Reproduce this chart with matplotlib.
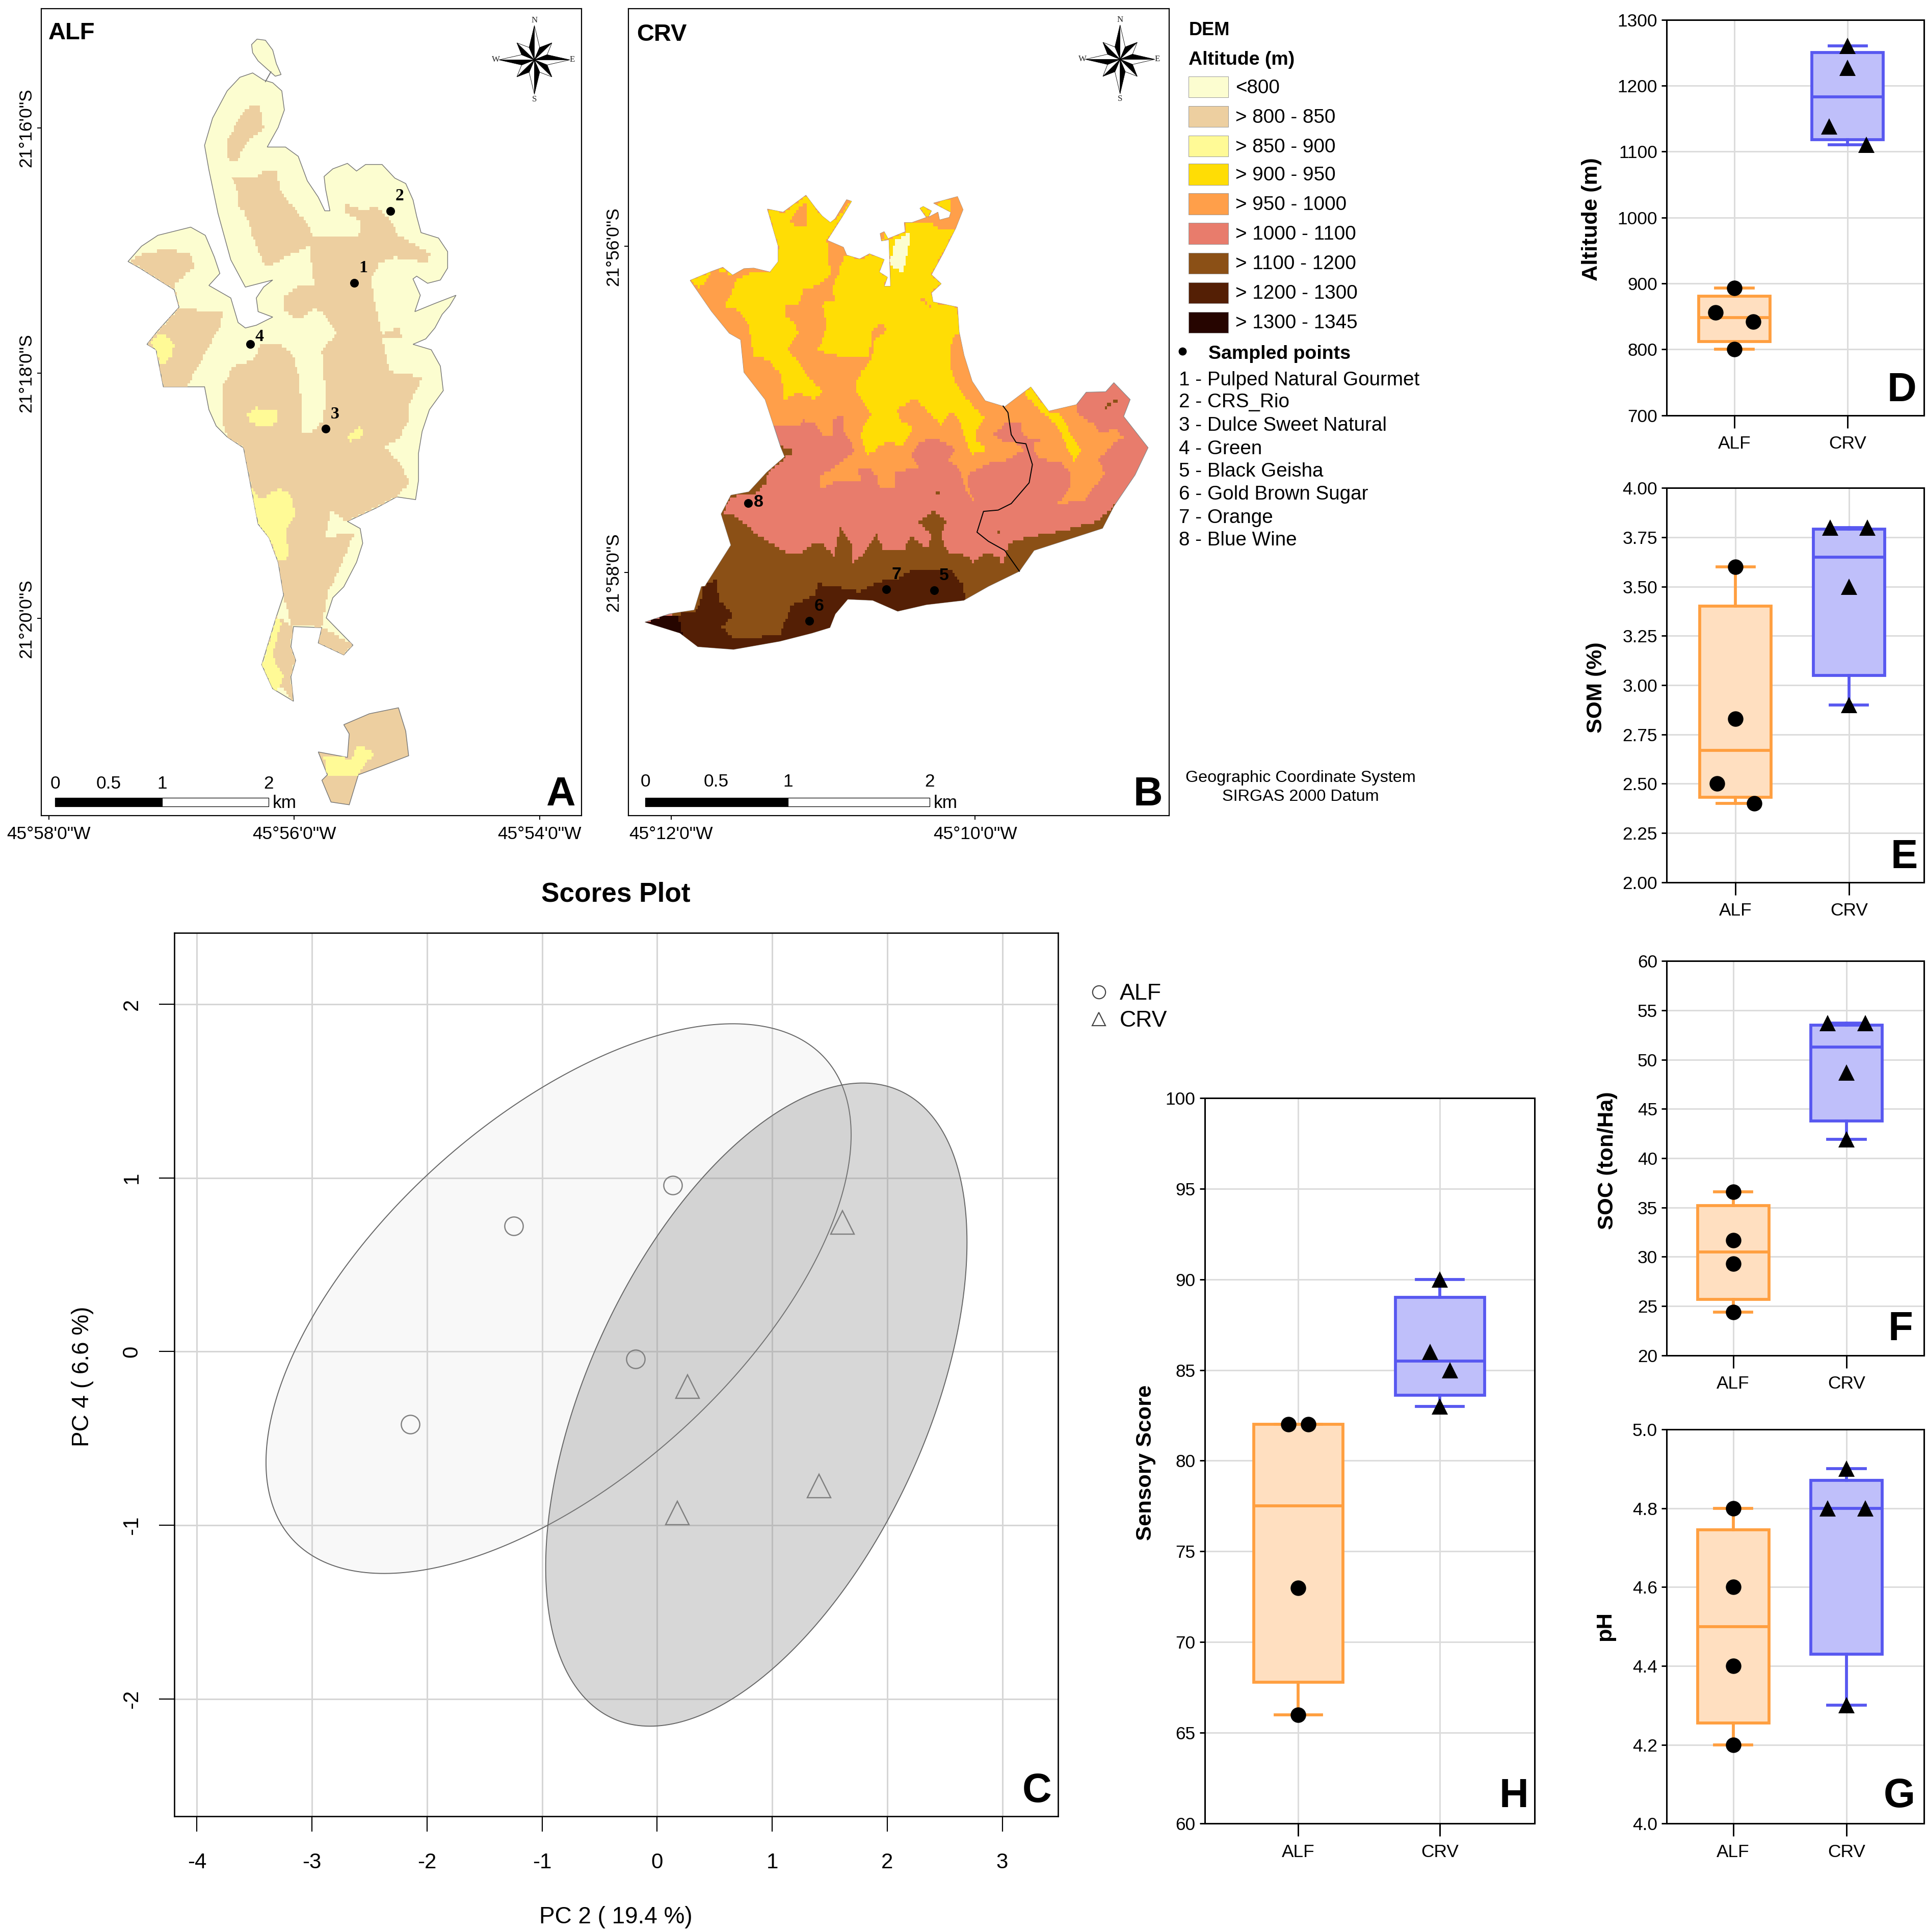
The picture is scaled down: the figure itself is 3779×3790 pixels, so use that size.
import numpy as np
import matplotlib
matplotlib.use('Agg')
import matplotlib.pyplot as plt
from matplotlib.patches import Polygon, Rectangle

plt.rcParams['font.family'] = ['Liberation Sans', 'DejaVu Sans']
plt.rcParams['axes.unicode_minus'] = False

# ---- map outlines (map units = pixels of the scan)
alf_islet = [(607,80),(622,70),(645,72),(665,90),(675,115),(688,135),(672,138),(650,125),(625,110),(610,95)]
alf_outline = [(575,140),(610,132),(640,145),(665,150),(690,165),(697,200),(680,232),(650,268),(700,268),(735,285),
    (760,330),(790,360),(808,385),(822,385),(810,345),(806,322),(830,308),(870,298),(895,312),(920,300),(965,300),
    (1000,325),(1030,335),(1050,365),(1060,395),(1072,425),(1120,435),(1145,460),(1145,490),(1125,512),(1090,518),
    (1060,505),(1050,510),(1070,540),(1055,570),(1110,555),(1168,540),(1150,560),(1130,575),(1110,600),(1085,620),
    (1050,630),(1100,640),(1125,670),(1133,715),(1095,750),(1075,790),(1065,830),(1065,880),(1057,915),(1005,910),
    (950,930),(870,955),(905,968),(912,995),(895,1030),(860,1075),(830,1095),(812,1132),(885,1182),(860,1200),
    (790,1178),(800,1150),(722,1148),(715,1185),(728,1210),(715,1240),(722,1285),(665,1262),(635,1218),(675,1130),
    (695,1090),(680,1030),(655,985),(625,960),(605,890),(585,820),(540,800),(510,780),(490,750),(478,708),(365,708),
    (345,640),(320,630),(350,605),(408,562),(395,530),(300,490),(268,478),(305,450),(350,430),(440,415),(480,430),
    (505,470),(520,500),(490,522),(550,545),(570,590),(590,600),(620,595),(665,580),(625,570),(620,545),(640,525),
    (665,512),(590,525),(550,475),(515,390),(490,310),(478,265),(500,215),(540,165)]
alf_south = [(860,1328),(930,1308),(1010,1297),(1030,1340),(1038,1385),(960,1405),(900,1420),(875,1475),(825,1470),
    (800,1430),(815,1420),(790,1378),(870,1388),(875,1345)]
alf_tan = [
    [(540,290),(537,260),(570,215),(605,190),(630,192),(640,235),(600,255),(565,295)],
    [(555,325),(600,325),(625,320),(650,310),(675,315),(690,355),(730,385),(755,405),(780,435),(900,435),(910,405),
     (860,385),(865,372),(910,385),(945,378),(985,400),(1010,430),(1060,450),(1100,465),(1090,480),(1000,470),(960,480),
     (935,510),(950,570),(965,610),(1010,600),(1020,620),(965,620),(985,680),(1075,690),(1060,715),(1040,740),(1040,770),
     (1015,800),(975,820),(1020,855),(1040,885),(1005,910),(950,930),(870,955),(825,935),(810,985),(885,975),(885,985),
     (850,1040),(815,1090),(800,1150),(715,1145),(695,1090),(680,1030),(655,985),(625,960),(605,890),(585,820),(540,800),
     (525,760),(525,710),(555,670),(610,660),(630,630),(680,630),(720,650),(740,700),(745,795),(770,790),(805,770),
     (810,720),(800,640),(840,610),(810,575),(780,565),(740,585),(700,570),(692,545),(730,525),(780,520),(765,450),
     (700,470),(650,490),(635,470),(610,430),(595,395),(570,375),(570,350)],
    [(268,478),(305,465),(375,455),(440,465),(450,490),(395,520),(408,562),(480,570),(530,572),(520,600),(470,660),
     (430,708),(365,708),(345,640),(320,630),(350,605),(408,562),(395,530),(300,490)],
    [(800,1150),(885,1182),(860,1200),(790,1178)],
    [(675,1130),(722,1148),(715,1185),(728,1210),(715,1240),(722,1285),(635,1218)],
]
alf_yellow = [
    [(330,622),(360,610),(395,630),(390,650),(360,670),(345,640)],
    [(595,755),(620,747),(680,752),(680,775),(640,782),(600,772)],
    [(870,798),(900,780),(915,790),(905,802),(880,808)],
    [(605,890),(630,915),(680,895),(715,905),(728,945),(700,975),(710,1020),(685,1030),(655,985),(625,960)],
    [(675,1135),(690,1140),(665,1200),(680,1225),(695,1240),(680,1265),(665,1262),(635,1218)],
    [(805,1385),(880,1390),(895,1365),(945,1380),(900,1420),(860,1425),(815,1422)],
]
alf_sites = ['1', '2', '3', '4']
alf_site_x = [889, 988, 810, 603]
alf_site_y = [517, 385, 785, 630]

crv_outline_crop = [(85,392),(150,358),(185,342),(215,372),(250,347),(280,345),(330,360),(355,320),(355,260),(322,118),
    (370,130),(440,65),(470,115),(490,145),(515,170),(530,155),(565,82),(580,88),(550,150),(505,238),(555,265),(565,295),
    (605,310),(635,290),(680,312),(665,360),(690,380),(680,415),(700,415),(695,235),(672,240),(668,212),(680,205),(692,232),
    (745,205),(742,170),(765,170),(810,150),(790,115),(800,108),(825,125),(815,150),(845,130),(850,160),(880,150),(885,130),
    (832,95),(905,70),(922,120),(900,190),(860,290),(825,370),(855,405),(825,440),(830,475),(905,495),(910,590),(925,680),
    (950,780),(990,855),(1050,878),(1130,802),(1185,895),(1270,870),(1300,822),(1360,820),(1385,785),(1435,850),(1415,915),
    (1490,1035),(1450,1140),(1385,1260),(1350,1345),(1140,1430),(1095,1510),(1000,1568)]
crv_outline_south = [(985,1100),(880,1108),(800,1120),(730,1100),(660,1098),(625,1125),(610,1150),(560,1160),(470,1175),
    (340,1190),(240,1185),(190,1160),(92,1140),(160,1125),(230,1118),(250,1075)]
crv_outline_west = [(130,1568),(210,1410),(180,1290),(210,1218),(265,1205),(320,1130),(375,1070),(362,1030),(315,850),
    (250,745),(240,620),(205,595),(150,510)]
crv_orange_crop = [(0,945),(340,945),(420,945),(430,930),(470,945),(490,990),(520,990),(525,925),(555,910),(555,970),(590,1050),
    (540,1100),(480,1150),(485,1195),(540,1160),(610,1170),(600,1120),(635,1115),(660,1150),(665,1190),(710,1195),(715,1130),
    (790,1105),(760,1060),(790,1010),(840,1000),(900,1040),(880,1085),(915,1130),(935,1210),(965,1260),(935,1180),(940,1135),
    (1000,1095),(1050,1085),(1115,1040),(1080,1015),(1050,1010),(1015,985),(1050,940),(1100,945),(1105,985),(1130,1000),
    (1195,1000),(1150,1010),(1135,1040),(1160,1080),(1220,1090),(1250,1130),(1255,1180),(1215,1250),(1290,1240),(1360,1130),
    (1335,1080),(1400,1000),(1420,1000),(1395,965),(1340,975),(1320,940),(1270,900),(1270,760),(1000,760),(1000,0),(0,0)]
crv_yellow_crop = [
    [(190,490),(215,430),(225,390),(270,360),(330,360),(355,260),(322,118),(370,130),(440,65),(490,145),(530,155),(580,88),
     (505,240),(510,300),(515,370),(480,410),(430,430),(420,480),(375,490),(375,530),(410,560),(415,600),(380,660),(420,710),
     (450,770),(490,820),(470,850),(420,825),(375,850),(365,760),(330,700),(280,680),(265,560),(240,510)],
    [(85,392),(150,358),(140,385),(115,425)],
    [(170,355),(185,342),(215,372)],
    [(540,350),(560,295),(605,310),(635,290),(680,312),(665,360),(690,380),(680,415),(700,415),(695,235),(745,205),(742,170),
     (810,165),(860,200),(900,190),(860,290),(825,370),(855,405),(825,440),(830,475),(905,495),(910,590),(890,615),(880,700),
     (895,780),(935,850),(975,910),(990,910),(965,970),(960,1010),(1000,1040),(950,1060),(940,1040),(905,910),(880,900),(855,950),
     (820,900),(775,845),(720,890),(730,930),(770,960),(740,1030),(690,1010),(630,1065),(605,980),(640,910),(590,800),(610,740),
     (640,700),(650,620),(680,590),(690,580),(670,555),(640,590),(635,690),(570,690),(475,660),(490,620),(505,570),(490,480),
     (530,470),(520,420),(540,370)],
    [(1110,825),(1130,802),(1185,895),(1215,900),(1240,950),(1265,1010),(1285,1050),(1265,1090),(1245,1040),(1215,960),(1180,910),(1150,880)],
    [(665,360),(680,205),(692,232),(672,240)],
    [(790,115),(800,108),(825,125),(815,150)],
    [(832,95),(880,80),(885,130)],
]
crv_orange_top = [
    [(905,70),(922,120),(900,190),(870,200),(840,170),(885,150),(885,85)],
    [(388,170),(420,105),(442,95),(442,190)],
    [(790,455),(830,495),(810,490)],
]
crv_pale_crop = [(715,240),(760,205),(755,260),(740,355),(715,350),(695,320)]
crv_brown_crop = [
    [(210,1290),(240,1315),(290,1370),(380,1440),(430,1435),(460,1405),(490,1410),(525,1450),(545,1345),(580,1410),(580,1480),
     (620,1440),(655,1365),(680,1435),(740,1430),(760,1375),(815,1425),(825,1365),(785,1320),(830,1280),(870,1320),(855,1380),
     (875,1440),(940,1450),(950,1480),(985,1445),(1030,1450),(1040,1490),(1065,1400),(1120,1380),(1225,1355),(1330,1320),(1385,1255),
     (1500,1400),(1500,1800),(0,1800),(100,1350)],
    [(365,1030),(410,1050),(380,1070),(320,1140),(320,1170),(285,1210),(210,1225),(185,1290),(215,1300),(150,1350),(150,1100)],
    [(1355,875),(1390,850),(1395,860),(1360,885)],
    [(840,1198),(856,1212),(850,1218),(840,1206)],
    [(1028,1355),(1036,1355),(1036,1365),(1028,1365)],
]
crv_river_crop = [(1045,875),(1060,900),(1070,985),(1085,1015),(1115,1020),(1135,1100),(1125,1170),(1070,1250),(1030,1275),
    (985,1280),(965,1360),(1000,1395),(1050,1430),(1095,1510)]
crv_dark = [(92,1140),(240,1118),(255,1075),(290,1060),(300,1100),(340,1130),(305,1150),(340,1170),(470,1165),(500,1110),(570,1090),
    (575,1070),(630,1075),(690,1085),(750,1065),(800,1060),(840,1042),(950,1045),(985,1075),(990,1100),(1000,1300),(0,1300)]
crv_darkest = [(92,1140),(160,1125),(185,1130),(200,1170),(150,1165)]
crv_sites = ['5', '6', '7', '8']
crv_site_x = [902, 552, 768, 381]
crv_site_y = [1082, 1138, 1080, 922]

dem_labels = ['<800', '> 800 - 850', '> 850 - 900', '> 900 - 950', '> 950 - 1000', '> 1000 - 1100',
              '> 1100 - 1200', '> 1200 - 1300', '> 1300 - 1345']
dem_colors = ['#FCFDD0', '#EDCFA0', '#FFFA96', '#FFDD05', '#FF9F4A', '#E87C6C', '#8B5016', '#541F05', '#260500']
site_names = ['1 - Pulped Natural Gourmet', '2 - CRS_Rio', '3 - Dulce Sweet Natural', '4 - Green', '5 - Black Geisha',
              '6 - Gold Brown Sugar', '7 - Orange', '8 - Blue Wine']

# ---- scores plot
alf_pc2 = [0.134, -1.247, -0.187, -2.147]
alf_pc4 = [0.957, 0.723, -0.043, -0.418]
crv_pc2 = [1.611, 0.262, 0.177, 1.408]
crv_pc4 = [0.745, -0.200, -0.930, -0.773]
# centre x, centre y, half range x, half range y, correlation
alf_ellipse = (-0.857, 0.305, 2.543, 1.582, 0.596)
crv_ellipse = (0.862, -0.305, 1.831, 1.851, 0.505)

# ---- box plots: whisker low, q1, median, q3, whisker high
alt_alf = [800, 812, 848, 881, 893]
alt_crv = [1110, 1118, 1183, 1250, 1260]
alt_alf_pts = [(0, 893), (-1, 856), (1, 842), (0, 800)]
alt_crv_pts = [(0, 1260), (0, 1227), (-1, 1138), (1, 1110)]
som_alf = [2.40, 2.43, 2.67, 3.40, 3.60]
som_crv = [2.90, 3.05, 3.65, 3.79, 3.80]
som_alf_pts = [(0, 3.6), (0, 2.83), (-1, 2.5), (1, 2.4)]
som_crv_pts = [(-1, 3.8), (1, 3.8), (0, 3.5), (0, 2.9)]
soc_alf = [24.4, 25.7, 30.5, 35.2, 36.6]
soc_crv = [41.9, 43.8, 51.3, 53.5, 53.7]
soc_alf_pts = [(0, 36.6), (0, 31.7), (0, 29.3), (0, 24.4)]
soc_crv_pts = [(-1, 53.7), (1, 53.7), (0, 48.7), (0, 41.9)]
ph_alf = [4.20, 4.255, 4.50, 4.745, 4.80]
ph_crv = [4.30, 4.43, 4.80, 4.87, 4.90]
ph_alf_pts = [(0, 4.8), (0, 4.6), (0, 4.4), (0, 4.2)]
ph_crv_pts = [(0, 4.9), (-1, 4.8), (1, 4.8), (0, 4.3)]
sen_alf = [66, 67.8, 77.5, 82, 82]
sen_crv = [83, 83.6, 85.5, 89, 90]
sen_alf_pts = [(-0.42, 82), (0.42, 82), (0, 73), (0, 66)]
sen_crv_pts = [(0, 90), (-0.42, 86), (0.42, 85), (0, 83)]

W, H = 1564.0, 1568.0   # layout is worked out in units of a 1564 wide view


def fs(d):
    return d * 3780 / W * 0.72


def lw(d):
    return d * 3780 / W * 0.72


def make_ax(left, right, top, bottom):
    return fig.add_axes([left / W, 1 - bottom / H, (right - left) / W, (bottom - top) / H])


def crop_to_map(pts):
    out = []
    for x, y in pts:
        fx, fy = 1300 + x / 1.564, 350 + y / 1.96
        out.append((45 + (fx - 1232.7) * 1.428, 15 + (fy - 17) * 0.935))
    return out


def stair(pts, cell=6.0):
    # raster look of the DEM: walk the edges and snap them to the grid
    out = []
    n = len(pts)
    for i in range(n):
        p, q = pts[i], pts[(i + 1) % n]
        k = max(int(np.hypot(q[0] - p[0], q[1] - p[1]) / (cell / 2)), 1)
        for j in range(k):
            x = round((p[0] + (q[0] - p[0]) * j / k) / cell) * cell
            y = round((p[1] + (q[1] - p[1]) * j / k) / cell) * cell
            if out and out[-1] == (x, y):
                continue
            if out and out[-1][0] != x and out[-1][1] != y:
                out.append((x, out[-1][1]))
            out.append((x, y))
    return out


fig = plt.figure(figsize=(37.8, 37.9), dpi=100)


def compass(ax, cx, cy, rx, ry):
    for i in range(8):
        a = i * np.pi / 4
        r = 1.0 if i % 2 == 0 else 0.7
        tip = (cx + r * rx * np.sin(a), cy - r * ry * np.cos(a))
        for side, col in ((-1, 'black'), (1, 'white')):
            b = a + side * np.pi / 8
            sh = (cx + 0.39 * rx * np.sin(b), cy - 0.39 * ry * np.cos(b))
            ax.add_patch(Polygon([(cx, cy), tip, sh], fc=col, ec='black', lw=lw(0.35), zorder=6))
    for s, dx, dy in (('N', 0, -1.15), ('S', 0, 1.15), ('E', 1.07, 0), ('W', -1.09, 0)):
        ax.text(cx + dx * rx, cy + dy * ry, s, family='Liberation Serif', fontsize=fs(7), ha='center', va='center', color='#222222')


def draw_map(ax, xlim, ylim, xticks, xlabs, yticks, ylabs):
    ax.set_xlim(*xlim)
    ax.set_ylim(*ylim)
    ax.set_xticks(xticks, xlabs, fontsize=fs(14.6))
    ax.set_yticks(yticks, ylabs, fontsize=fs(14.6), rotation=90, va='center')
    ax.tick_params(length=6, width=lw(0.8), pad=8)
    ax.tick_params(axis='y', pad=3)
    for s in ax.spines.values():
        s.set_linewidth(lw(0.9))


def clipped(ax, pts, col, clip, z=2):
    p = Polygon(stair(pts), fc=col, ec='none', zorder=z)
    ax.add_patch(p)
    p.set_clip_path(clip)


def scalebar(ax, x0, x1, x2, tx, y0, y1, yt, label_mid):
    ax.add_patch(Rectangle((x0, y0), x1 - x0, y1 - y0, fc='black', ec='black', lw=lw(0.5), zorder=5))
    ax.add_patch(Rectangle((x1, y0), x2 - x1, y1 - y0, fc='white', ec='black', lw=lw(0.5), zorder=5))
    for x, s in ((x0, '0'), (label_mid, '0.5'), (x1, '1'), (x2, '2')):
        ax.text(x, yt + 3, s, fontsize=fs(14.6), ha='center', va='center')
    ax.text(tx, (y0 + y1) / 2 + 2, 'km', fontsize=fs(14.6), ha='center', va='center')


# ---- panel A
ax_a = make_ax(33.5, 472, 7, 662)
draw_map(ax_a, (30, 1512), (1495, 14), [51, 724, 1397], ['45°58\'0"W', '45°56\'0"W', '45°54\'0"W'],
         [233, 683, 1133], ['21°16\'0"S', '21°18\'0"S', '21°20\'0"S'])
for pts in (alf_islet, alf_outline):
    ax_a.add_patch(Polygon(pts, fc=dem_colors[0], ec='#777777', lw=lw(0.6), zorder=1))
main_clip = Polygon(alf_outline, transform=ax_a.transData)
for pts in alf_tan:
    clipped(ax_a, pts, dem_colors[1], main_clip)
for pts in alf_yellow[:5]:
    clipped(ax_a, pts, dem_colors[2], main_clip)
south_patch = Polygon(alf_south, fc=dem_colors[1], ec='#777777', lw=lw(0.6), zorder=1)
ax_a.add_patch(south_patch)
clipped(ax_a, alf_yellow[5], dem_colors[2], south_patch)
ax_a.plot([645, 660], [148, 130], color='#777777', lw=lw(0.8), zorder=1)
ax_a.plot(alf_site_x, alf_site_y, ls='none', marker='o', color='black', ms=fs(6.5), zorder=4)
for s, x, y in zip(alf_sites, alf_site_x, alf_site_y):
    ax_a.text(x + 25, y - 27 if s != '4' else y - 14, s, family='Liberation Serif', weight='bold',
              fontsize=fs(14), ha='center', va='center', zorder=5)
compass(ax_a, 1383, 108, 97, 63)
scalebar(ax_a, 68, 362, 654, 697, 1462, 1478, 1433, 215)

# ---- panel B
ax_b = make_ax(510, 949, 7, 662)
draw_map(ax_b, (45, 1560), (1495, 15), [165, 1017], ['45°12\'0"W', '45°10\'0"W'],
         [451, 1049], ['21°56\'0"S', '21°58\'0"S'])
crv_outline = crop_to_map(crv_outline_crop) + crv_outline_south + crop_to_map(crv_outline_west)
ax_b.add_patch(Polygon(crv_outline, fc=dem_colors[5], ec='#888888', lw=lw(0.5), zorder=1))
crv_clip = Polygon(crv_outline, transform=ax_b.transData)
clipped(ax_b, crop_to_map(crv_orange_crop), dem_colors[4], crv_clip)
for pts in crv_yellow_crop:
    clipped(ax_b, crop_to_map(pts), dem_colors[3], crv_clip)
for pts in crv_orange_top:
    clipped(ax_b, crop_to_map(pts), dem_colors[4], crv_clip)
clipped(ax_b, crop_to_map(crv_pale_crop), dem_colors[0], crv_clip)
for pts in crv_brown_crop:
    clipped(ax_b, crop_to_map(pts), dem_colors[6], crv_clip)
clipped(ax_b, crv_dark, dem_colors[7], crv_clip)
clipped(ax_b, crv_darkest, dem_colors[8], crv_clip)
ax_b.plot(*zip(*crop_to_map(crv_river_crop)), color='black', lw=lw(0.8), zorder=3)
ax_b.plot(crv_site_x, crv_site_y, ls='none', marker='o', color='black', ms=fs(6.5), zorder=4)
for s, x, y in zip(crv_sites, crv_site_x, crv_site_y):
    off = (29, -2) if s == '8' else (28, -27)
    ax_b.text(x + off[0], y + off[1], s, weight='bold', fontsize=fs(14), ha='center', va='center', zorder=5)
compass(ax_b, 1423, 108, 97, 63)
scalebar(ax_b, 93, 493, 890, 934, 1462, 1478, 1430, 292)

# ---- panel C
ax_c = make_ax(141.5, 859, 757, 1474)
ax_c.set_xlim(-4.197, 3.485)
ax_c.set_ylim(-2.674, 2.411)
ax_c.set_xticks(range(-4, 4))
ax_c.set_yticks(range(-2, 3))
ax_c.set_yticklabels([str(v) for v in range(-2, 3)], rotation=90, va='center')
ax_c.tick_params(labelsize=fs(17.4), length=21.6, width=lw(0.9), pad=24)
ax_c.tick_params(axis='x', pad=30)
ax_c.grid(color='#D6D6D6', lw=2.2)
ax_c.set_axisbelow(True)
for s in ax_c.spines.values():
    s.set_linewidth(lw(1.1))
t = np.linspace(0, 2 * np.pi, 300)
for (cx, cy, rx, ry, rho), col in ((alf_ellipse, (0.80, 0.80, 0.80, 0.13)), (crv_ellipse, (0.55, 0.55, 0.55, 0.34))):
    ax_c.fill(cx + rx * np.cos(t), cy + ry * np.cos(t - np.arccos(rho)), fc=col, ec='#666666', lw=lw(0.8), zorder=2)
ax_c.plot(alf_pc2, alf_pc4, ls='none', marker='o', ms=fs(15), mfc='none', mec='#808080', mew=lw(1.0), zorder=3)
ax_c.plot(crv_pc2, crv_pc4, ls='none', marker='^', ms=fs(19), mfc='none', mec='#808080', mew=lw(1.0), zorder=3)


# ---- box plots
def box_panel(box, alf, crv, alf_pts, crv_pts, ylim, step, fmt, spread):
    ax = make_ax(*box)
    lo, hi = ylim
    x0, sp = spread
    ax.set_xlim((box[0] - x0) / sp, (box[1] - x0) / sp)
    ax.set_ylim(lo, hi)
    ticks = np.arange(lo, hi + step / 2, step)
    ax.set_yticks(ticks, [fmt % v for v in ticks])
    ax.set_xticks([0, 1], ['ALF', 'CRV'])
    ax.tick_params(axis='y', labelsize=fs(14.6), length=7, width=lw(1.2), pad=6)
    ax.tick_params(axis='x', labelsize=fs(14.6), length=18, width=lw(1.2), pad=fs(6))
    ax.grid(color='#DCDCDC', lw=2.2)
    ax.set_axisbelow(True)
    for s in ax.spines.values():
        s.set_linewidth(lw(1.25))
    for pos, vals, edge, face, pts, mark in ((0, alf, '#FF9F40', '#FFDFC0', alf_pts, 'o'),
                                             (1, crv, '#5858F0', '#BFBFFA', crv_pts, '^')):
        stat = dict(whislo=vals[0], q1=vals[1], med=vals[2], q3=vals[3], whishi=vals[4], fliers=[])
        ax.bxp([stat], positions=[pos], widths=0.63, capwidths=0.33, patch_artist=True, manage_ticks=False,
               showfliers=False,
               boxprops=dict(facecolor=face, edgecolor=edge, linewidth=lw(2.4)),
               medianprops=dict(color=edge, linewidth=lw(2.4)),
               whiskerprops=dict(color=edge, linewidth=lw(2.4)),
               capprops=dict(color=edge, linewidth=lw(2.4)))
        xs = [pos + p[0] * 0.165 for p in pts]
        ys = [p[1] for p in pts]
        ax.plot(xs, ys, ls='none', marker=mark, color='black', ms=fs(12.6 if mark == 'o' else 13.5), mew=0, zorder=5, clip_on=False)
    return ax


box_panel((1353, 1562, 16, 337), alt_alf, alt_crv, alt_alf_pts, alt_crv_pts, (700, 1300), 100, '%d', (1408, 92))
box_panel((1353, 1562, 396, 716), som_alf, som_crv, som_alf_pts, som_crv_pts, (2.0, 4.0), 0.25, '%.2f', (1409, 92))
box_panel((1353, 1562, 780, 1100), soc_alf, soc_crv, soc_alf_pts, soc_crv_pts, (20, 60), 5, '%d', (1407, 92))
box_panel((1353, 1562, 1160, 1480), ph_alf, ph_crv, ph_alf_pts, ph_crv_pts, (4.0, 5.0), 0.2, '%.1f', (1407, 92))
box_panel((978, 1246, 891, 1480), sen_alf, sen_crv, sen_alf_pts, sen_crv_pts, (60, 100), 5, '%d', (1054, 115))

# ---- overlay for free text and the legends
ov = fig.add_axes([0, 0, 1, 1], zorder=20)
ov.set_xlim(0, W)
ov.set_ylim(H, 0)
ov.axis('off')
ov.patch.set_alpha(0)

for s, x, y in (('A', 455, 645), ('B', 932, 645), ('C', 842, 1454), ('D', 1544, 317), ('E', 1546, 696),
                ('F', 1543, 1079), ('G', 1542, 1458), ('H', 1229, 1458)):
    ov.text(x, y, s, weight='bold', fontsize=fs(33), ha='center', va='center')
ov.text(58, 27, 'ALF', weight='bold', fontsize=fs(19.5), ha='center', va='center')
ov.text(537, 28, 'CRV', weight='bold', fontsize=fs(19.5), ha='center', va='center')

ov.text(965, 24.5, 'DEM', weight='bold', fontsize=fs(15), va='center')
ov.text(965, 48.5, 'Altitude (m)', weight='bold', fontsize=fs(15.5), va='center')
legend_y = [70, 94, 118, 141, 165, 189, 213, 237, 261]
for y, c, s in zip(legend_y, dem_colors, dem_labels):
    ov.add_patch(Rectangle((965, y - 8), 32, 17, fc=c, ec='#999999', lw=lw(0.4)))
    ov.text(1003, y + 1.5, s, fontsize=fs(16), va='center')
ov.plot([960], [285], marker='o', color='black', ms=fs(6))
ov.text(981, 287.5, 'Sampled points', weight='bold', fontsize=fs(15.5), va='center')
for y, s in zip([307, 325, 344, 363, 381, 400, 419, 437], site_names):
    ov.text(957, y + 1.5, s, fontsize=fs(16), va='center')
ov.text(1056, 631.5, 'Geographic Coordinate System', fontsize=fs(13.4), ha='center', va='center')
ov.text(1056, 646.5, 'SIRGAS 2000 Datum', fontsize=fs(13.4), ha='center', va='center')

ov.text(500, 726, 'Scores Plot', weight='bold', fontsize=fs(22), ha='center', va='center')
ov.text(500, 1556, 'PC 2 ( 19.4 %)', fontsize=fs(19), ha='center', va='center')
ov.text(67, 1117, 'PC 4 ( 6.6 %)', fontsize=fs(19), rotation=90, ha='center', va='center')
ov.plot([892], [805], marker='o', ms=fs(10.5), mfc='none', mec='#444444', mew=lw(0.9))
ov.plot([892], [827], marker='^', ms=fs(11), mfc='none', mec='#444444', mew=lw(0.9))
ov.text(909, 806.5, 'ALF', fontsize=fs(18.5), va='center')
ov.text(909, 828.5, 'CRV', fontsize=fs(18.5), va='center')

for s, x, y in (('Altitude (m)', 1292, 178), ('SOM (%)', 1296, 558), ('SOC (ton/Ha)', 1305, 942), ('pH', 1303, 1320),
                ('Sensory Score', 930, 1187)):
    ov.text(x, y, s, weight='bold', fontsize=fs(18), rotation=90, ha='center', va='center')

fig.savefig('out.png', dpi=100, facecolor='white')
